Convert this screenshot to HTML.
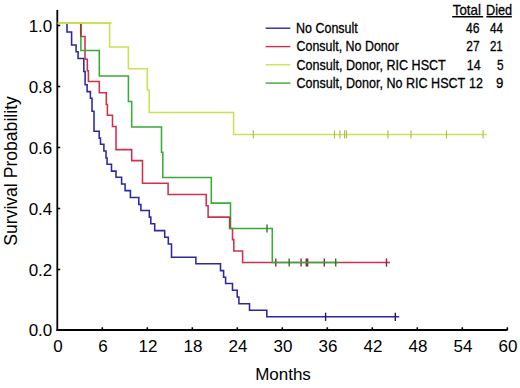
<!DOCTYPE html>
<html><head><meta charset="utf-8"><style>
html,body{margin:0;padding:0;background:#fff;}
svg{display:block;}
text{font-family:"Liberation Sans",sans-serif;fill:#000;}
.lgt{stroke:#000;stroke-width:0.3px;}
.ax{font-size:17px;}
</style></head><body>
<svg width="520" height="388" viewBox="0 0 520 388" xmlns="http://www.w3.org/2000/svg">
<rect width="520" height="388" fill="#fff"/>
<path d="M57.3,10 L57.3,331" stroke="#000" stroke-width="1.8" fill="none"/>
<path d="M56.4,330 L507.6,330" stroke="#000" stroke-width="1.8" fill="none"/>
<path d="M57.3,25.5 L60.2,25.5" stroke="#000" stroke-width="1.6"/>
<text x="52.3" y="31.5" class="ax" text-anchor="end">1.0</text>
<path d="M57.3,86.5 L60.2,86.5" stroke="#000" stroke-width="1.6"/>
<text x="52.3" y="92.5" class="ax" text-anchor="end">0.8</text>
<path d="M57.3,147.5 L60.2,147.5" stroke="#000" stroke-width="1.6"/>
<text x="52.3" y="153.5" class="ax" text-anchor="end">0.6</text>
<path d="M57.3,208.5 L60.2,208.5" stroke="#000" stroke-width="1.6"/>
<text x="52.3" y="214.5" class="ax" text-anchor="end">0.4</text>
<path d="M57.3,269.5 L60.2,269.5" stroke="#000" stroke-width="1.6"/>
<text x="52.3" y="275.5" class="ax" text-anchor="end">0.2</text>
<text x="52.3" y="336.0" class="ax" text-anchor="end">0.0</text>
<text x="57.9" y="352.3" class="ax" text-anchor="middle">0</text>
<path d="M102.3,330 L102.3,327.3" stroke="#000" stroke-width="1.6"/>
<text x="102.9" y="352.3" class="ax" text-anchor="middle">6</text>
<path d="M147.3,330 L147.3,327.3" stroke="#000" stroke-width="1.6"/>
<text x="147.9" y="352.3" class="ax" text-anchor="middle">12</text>
<path d="M192.3,330 L192.3,327.3" stroke="#000" stroke-width="1.6"/>
<text x="192.9" y="352.3" class="ax" text-anchor="middle">18</text>
<path d="M237.3,330 L237.3,327.3" stroke="#000" stroke-width="1.6"/>
<text x="237.9" y="352.3" class="ax" text-anchor="middle">24</text>
<path d="M282.3,330 L282.3,327.3" stroke="#000" stroke-width="1.6"/>
<text x="282.9" y="352.3" class="ax" text-anchor="middle">30</text>
<path d="M327.3,330 L327.3,327.3" stroke="#000" stroke-width="1.6"/>
<text x="327.9" y="352.3" class="ax" text-anchor="middle">36</text>
<path d="M372.3,330 L372.3,327.3" stroke="#000" stroke-width="1.6"/>
<text x="372.9" y="352.3" class="ax" text-anchor="middle">42</text>
<path d="M417.3,330 L417.3,327.3" stroke="#000" stroke-width="1.6"/>
<text x="417.9" y="352.3" class="ax" text-anchor="middle">48</text>
<path d="M462.3,330 L462.3,327.3" stroke="#000" stroke-width="1.6"/>
<text x="462.9" y="352.3" class="ax" text-anchor="middle">54</text>
<path d="M507.3,330 L507.3,327.3" stroke="#000" stroke-width="1.6"/>
<text x="507.9" y="352.3" class="ax" text-anchor="middle">60</text>
<text x="283" y="379.8" class="ax" text-anchor="middle">Months</text>
<text transform="translate(17.0,171) rotate(-90)" x="0" y="0" class="ax" style="font-size:17.6px" text-anchor="middle">Survival Probability</text>
<path d="M57.8,23.1 L67.0,23.1 L67.0,32.0 L71.6,32.0 L71.6,44.9 L76.1,44.9 L76.1,51.8 L78.1,51.8 L78.1,58.4 L83.8,58.4 L83.8,71.4 L85.1,71.4 L85.1,84.7 L87.1,84.7 L87.1,91.6 L90.4,91.6 L90.4,98.3 L92.0,98.3 L92.0,111.2 L94.0,111.2 L94.0,131.2 L99.2,131.2 L99.2,138.1 L100.5,138.1 L100.5,144.3 L103.9,144.3 L103.9,150.9 L106.0,150.9 L106.0,157.9 L107.1,157.9 L107.1,164.3 L111.5,164.3 L111.5,171.1 L116.0,171.1 L116.0,177.3 L121.6,177.3 L121.6,184.0 L125.1,184.0 L125.1,190.6 L130.4,190.6 L130.4,197.5 L138.8,197.5 L138.8,204.4 L140.9,204.4 L140.9,210.5 L149.3,210.5 L149.3,217.1 L150.8,217.1 L150.8,223.8 L154.7,223.8 L154.7,230.6 L164.7,230.6 L164.7,237.3 L168.3,237.3 L168.3,244.0 L171.5,244.0 L171.5,257.2 L195.9,257.2 L195.9,263.8 L220.5,263.8 L220.5,270.6 L223.6,270.6 L223.6,277.3 L225.6,277.3 L225.6,283.5 L232.5,283.5 L232.5,290.3 L237.2,290.3 L237.2,297.0 L238.9,297.0 L238.9,303.8 L249.5,303.8 L249.5,310.3 L266.8,310.3 L266.8,316.8 L399.2,316.8" stroke="#2a28a4" stroke-width="1.55" fill="none"/>
<path d="M325.6,312.7 L325.6,320.9" stroke="#1c1a6a" stroke-width="1.4"/>
<path d="M395.3,312.7 L395.3,320.9" stroke="#1c1a6a" stroke-width="1.4"/>
<path d="M57.8,23.1 L80.7,23.1 L80.7,36.4 L85.0,36.4 L85.0,59.2 L87.3,59.2 L87.3,70.8 L88.4,70.8 L88.4,81.4 L99.3,81.4 L99.3,92.8 L106.3,92.8 L106.3,104.4 L107.4,104.4 L107.4,115.2 L112.5,115.2 L112.5,126.5 L116.0,126.5 L116.0,149.6 L131.7,149.6 L131.7,160.6 L142.5,160.6 L142.5,183.2 L168.1,183.2 L168.1,194.5 L206.2,194.5 L206.2,205.8 L208.1,205.8 L208.1,217.1 L229.6,217.1 L229.6,228.5 L232.5,228.5 L232.5,239.6 L233.8,239.6 L233.8,250.9 L242.6,250.9 L242.6,262.5 L390.0,262.5" stroke="#d0304c" stroke-width="1.55" fill="none"/>
<path d="M275.8,258.4 L275.8,266.6" stroke="#86293f" stroke-width="1.4"/>
<path d="M301.1,258.4 L301.1,266.6" stroke="#86293f" stroke-width="1.4"/>
<path d="M306.3,258.4 L306.3,266.6" stroke="#86293f" stroke-width="1.4"/>
<path d="M307.6,258.4 L307.6,266.6" stroke="#86293f" stroke-width="1.4"/>
<path d="M324.3,258.4 L324.3,266.6" stroke="#86293f" stroke-width="1.4"/>
<path d="M386.5,258.4 L386.5,266.6" stroke="#86293f" stroke-width="1.4"/>
<path d="M57.8,23.1 L80.9,23.1 L80.9,50.4 L99.3,50.4 L99.3,76.0 L128.4,76.0 L128.4,101.4 L131.7,101.4 L131.7,127.0 L161.5,127.0 L161.5,152.3 L162.8,152.3 L162.8,177.5 L211.3,177.5 L211.3,203.1 L230.5,203.1 L230.5,228.5 L272.3,228.5 L272.3,262.5 L338.5,262.5" stroke="#38aa38" stroke-width="1.55" fill="none"/>
<path d="M267.0,224.4 L267.0,232.6" stroke="#2a7a2a" stroke-width="1.4"/>
<path d="M289.2,258.4 L289.2,266.6" stroke="#2a7a2a" stroke-width="1.4"/>
<path d="M335.7,258.4 L335.7,266.6" stroke="#2a7a2a" stroke-width="1.4"/>
<path d="M57.8,23.1 L109.6,23.1 L109.6,47.0 L128.4,47.0 L128.4,68.7 L147.3,68.7 L147.3,90.3 L149.2,90.3 L149.2,112.5 L233.6,112.5 L233.6,134.4 L487.0,134.4" stroke="#cde050" stroke-width="1.55" fill="none"/>
<path d="M253.3,130.3 L253.3,138.5" stroke="#b0c050" stroke-width="1.2"/>
<path d="M334.5,130.3 L334.5,138.5" stroke="#b0c050" stroke-width="1.2"/>
<path d="M339.9,130.3 L339.9,138.5" stroke="#b0c050" stroke-width="1.2"/>
<path d="M344.6,130.3 L344.6,138.5" stroke="#b0c050" stroke-width="1.2"/>
<path d="M346.5,130.3 L346.5,138.5" stroke="#b0c050" stroke-width="1.2"/>
<path d="M387.9,130.3 L387.9,138.5" stroke="#b0c050" stroke-width="1.2"/>
<path d="M411.0,130.3 L411.0,138.5" stroke="#b0c050" stroke-width="1.2"/>
<path d="M446.5,130.3 L446.5,138.5" stroke="#b0c050" stroke-width="1.2"/>
<path d="M483.1,130.3 L483.1,138.5" stroke="#b0c050" stroke-width="1.2"/>
<path d="M80.8,23.900000000000002 L80.8,36.4" stroke="#9a3a3a" stroke-width="1.55"/>
<path d="M230.0,217.1 L230.0,228.0" stroke="#7a5a3a" stroke-width="1.55"/>
<path d="M57.8,23.1 L111.6,23.1" stroke="#cde050" stroke-width="1.55"/>
<path d="M265.6,28.2 L290.4,28.2" stroke="#2a28a4" stroke-width="1.4"/>
<text class="lgt" x="295.97" y="32.8" style="font-size:14.6px" textLength="61.82" lengthAdjust="spacingAndGlyphs">No Consult</text>
<text class="lgt" x="466.12" y="33.0" style="font-size:15px" textLength="13.51" lengthAdjust="spacingAndGlyphs">46</text>
<text class="lgt" x="489.93" y="33.0" style="font-size:15px" textLength="13.01" lengthAdjust="spacingAndGlyphs">44</text>
<path d="M265.6,46.6 L290.4,46.6" stroke="#d0304c" stroke-width="1.4"/>
<text class="lgt" x="296.57" y="51.2" style="font-size:14.6px" textLength="102.24" lengthAdjust="spacingAndGlyphs">Consult, No Donor</text>
<text class="lgt" x="466.30" y="51.400000000000006" style="font-size:15px" textLength="13.30" lengthAdjust="spacingAndGlyphs">27</text>
<text class="lgt" x="489.92" y="51.400000000000006" style="font-size:15px" textLength="12.84" lengthAdjust="spacingAndGlyphs">21</text>
<path d="M265.6,64.8 L290.4,64.8" stroke="#cde050" stroke-width="1.4"/>
<text class="lgt" x="296.47" y="69.6" style="font-size:14.6px" textLength="149.32" lengthAdjust="spacingAndGlyphs">Consult, Donor, RIC HSCT</text>
<text class="lgt" x="466.85" y="69.8" style="font-size:15px" textLength="13.92" lengthAdjust="spacingAndGlyphs">14</text>
<text class="lgt" x="497.03" y="69.8" style="font-size:15px" textLength="6.57" lengthAdjust="spacingAndGlyphs">5</text>
<path d="M265.6,83.1 L290.4,83.1" stroke="#38aa38" stroke-width="1.4"/>
<text class="lgt" x="296.47" y="88.0" style="font-size:14.6px" textLength="168.82" lengthAdjust="spacingAndGlyphs">Consult, Donor, No RIC HSCT</text>
<text class="lgt" x="469.05" y="88.2" style="font-size:15px" textLength="13.88" lengthAdjust="spacingAndGlyphs">12</text>
<text class="lgt" x="495.98" y="88.2" style="font-size:15px" textLength="7.34" lengthAdjust="spacingAndGlyphs">9</text>
<text class="lgt" x="452.82" y="14.5" style="font-size:14.6px" textLength="28.03" lengthAdjust="spacingAndGlyphs">Total</text>
<text class="lgt" x="485.96" y="14.5" style="font-size:14.6px" textLength="26.16" lengthAdjust="spacingAndGlyphs">Died</text>
<path d="M452.2,16.8 L483.2,16.8 M486.4,16.8 L511.8,16.8" stroke="#000" stroke-width="1.5"/>
</svg>
</body></html>
